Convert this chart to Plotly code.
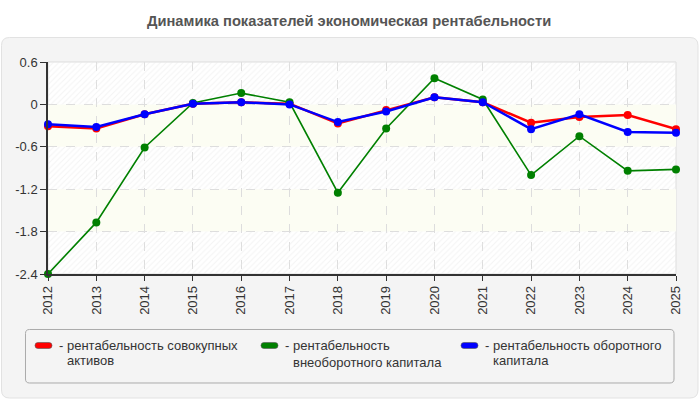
import plotly.graph_objects as go

years = list(range(2012, 2026))
total_assets = [-0.31, -0.34, -0.14, 0.01, 0.03, 0.01, -0.27, -0.08, 0.10, 0.03, -0.26, -0.18, -0.15, -0.35]
noncurrent = [-2.40, -1.67, -0.61, 0.02, 0.16, 0.03, -1.25, -0.34, 0.37, 0.07, -1.00, -0.45, -0.94, -0.92]
current = [-0.28, -0.32, -0.14, 0.01, 0.03, 0.00, -0.25, -0.10, 0.10, 0.03, -0.35, -0.14, -0.39, -0.40]

series_names = ["рентабельность совокупных активов",
                "рентабельность внеоборотного капитала",
                "рентабельность оборотного капитала"]
legend_lines = [["рентабельность совокупных", "активов"],
                ["рентабельность", "внеоборотного капитала"],
                ["рентабельность оборотного", "капитала"]]
series_values = [total_assets, noncurrent, current]
colors = ["#ff0000", "#008000", "#0000ff"]
widths = [2.5, 1.6, 2.5]

y_ticks = [0.6, 0, -0.6, -1.2, -1.8, -2.4]
y_tick_text = ["0.6", "0", "-0.6", "-1.2", "-1.8", "-2.4"]
title = "Динамика показателей экономическая рентабельности"

W, H = 700, 400
L, R, T, B = 48, 24, 62, 126
PW, PH = W - L - R, H - T - B
FONT = "Liberation Sans, Arial, sans-serif"


def px_x(p):
    return (p - L) / PW


def px_y(p):
    return (T + PH - p) / PH


def rrect(x0, y0, x1, y1, r):
    pts = [
        ("M", [(x0 + r, y0)]),
        ("L", [(x1 - r, y0)]),
        ("Q", [(x1, y0), (x1, y0 + r)]),
        ("L", [(x1, y1 - r)]),
        ("Q", [(x1, y1), (x1 - r, y1)]),
        ("L", [(x0 + r, y1)]),
        ("Q", [(x0, y1), (x0, y1 - r)]),
        ("L", [(x0, y0 + r)]),
        ("Q", [(x0, y0), (x0 + r, y0)]),
    ]
    s = ""
    for cmd, ps in pts:
        s += cmd + " " + " ".join(f"{px_x(a):.5f},{px_y(b):.5f}" for a, b in ps) + " "
    return s + "Z"


fig = go.Figure()

# hatched bands
bands = list(zip(y_ticks[:-1], y_ticks[1:]))
for i, (top, bot) in enumerate(bands):
    if i % 2 == 0:
        fig.add_trace(go.Scatter(
            x=[years[0], years[-1], years[-1], years[0], years[0]],
            y=[top, top, bot, bot, top],
            mode="lines", fill="toself", line=dict(width=0),
            fillcolor="rgba(0,0,0,0)",
            fillpattern=dict(shape="/", fgcolor="#e8e8e8", bgcolor="rgba(255,255,255,0)",
                             size=4, solidity=0.25),
            hoverinfo="skip", showlegend=False))

for name, vals, c, w in zip(series_names, series_values, colors, widths):
    fig.add_trace(go.Scatter(
        x=years, y=vals, name=name, mode="lines+markers",
        line=dict(color=c, width=w), marker=dict(color=c, size=8),
        cliponaxis=False, showlegend=False))

shapes = []
# outer panel
shapes.append(dict(type="path", xref="paper", yref="paper", layer="below",
                   path=rrect(1.5, 37.5, 698, 398, 8),
                   fillcolor="#f4f4f4", line=dict(color="#e2e2e2", width=1)))
# plot area
shapes.append(dict(type="rect", xref="paper", yref="paper", layer="below",
                   x0=0, x1=1, y0=0, y1=1, fillcolor="#ffffff",
                   line=dict(color="#dddddd", width=1)))
# yellow bands
for i, (top, bot) in enumerate(bands):
    if i % 2 == 1:
        shapes.append(dict(type="rect", xref="paper", yref="y", layer="below",
                           x0=0, x1=1, y0=bot, y1=top, fillcolor="#fcfdf3",
                           line=dict(width=0)))
# legend box
shapes.append(dict(type="path", xref="paper", yref="paper", layer="below",
                   path=rrect(25.5, 329.5, 674, 383, 4),
                   fillcolor="#f4f4f4", line=dict(color="#aaaaaa", width=1)))

annotations = []
sw_x = [35, 261, 461]
txt_x = [57, 283, 483]
line1_y = 345
line2_y = [360, 362, 360]
for lines, c, sx, tx, y2 in zip(legend_lines, colors, sw_x, txt_x, line2_y):
    shapes.append(dict(type="path", xref="paper", yref="paper", layer="above",
                       path=rrect(sx, 342.5, sx + 17, 348.5, 3),
                       fillcolor=c, line=dict(color="#555555", width=0.6)))
    annotations.append(dict(xref="paper", yref="paper", x=px_x(tx), y=px_y(line1_y),
                            xanchor="left", yanchor="middle", showarrow=False,
                            text="- " + lines[0],
                            font=dict(family=FONT, size=13, color="#333333")))
    annotations.append(dict(xref="paper", yref="paper", x=px_x(tx + 7.5), y=px_y(y2),
                            xanchor="left", yanchor="middle", showarrow=False,
                            text=lines[1],
                            font=dict(family=FONT, size=13, color="#333333")))

annotations.append(dict(xref="paper", yref="paper", x=px_x(349), y=px_y(20.5),
                        xanchor="center", yanchor="middle", showarrow=False,
                        text="<b>" + title + "</b>",
                        font=dict(family=FONT, size=14.7, color="#555555")))

fig.update_layout(
    width=W, height=H,
    margin=dict(l=L, r=R, t=T, b=B),
    paper_bgcolor="#ffffff",
    plot_bgcolor="rgba(0,0,0,0)",
    shapes=shapes, annotations=annotations,
    showlegend=False,
    font=dict(family=FONT, size=13, color="#333333"),
    xaxis=dict(range=[years[0], years[-1]], tickmode="array", tickvals=years,
               ticktext=[str(y) for y in years], tickangle=-90,
               showgrid=True, gridcolor="#dddddd", griddash="dash", gridwidth=1,
               showline=True, linecolor="#333333", linewidth=1.5,
               ticks="outside", ticklen=5, tickcolor="#333333",
               zeroline=False, tickfont=dict(size=13, color="#333333")),
    yaxis=dict(range=[y_ticks[-1], y_ticks[0]], tickmode="array", tickvals=y_ticks,
               ticktext=y_tick_text,
               showgrid=True, gridcolor="#dddddd", griddash="dash", gridwidth=1,
               showline=True, linecolor="#333333", linewidth=1.5,
               ticks="outside", ticklen=6, tickcolor="#333333",
               zeroline=False, tickfont=dict(size=13, color="#333333")),
)

fig.write_html("out.html")
